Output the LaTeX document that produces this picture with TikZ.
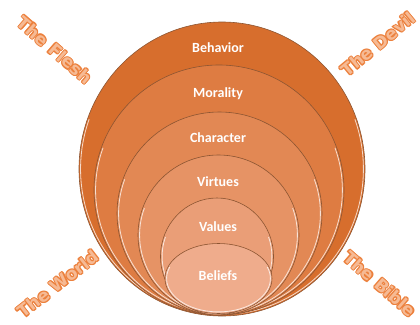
\documentclass[tikz,border=0pt]{standalone}
\usepackage{fontspec}
\setmainfont{Carlito}
\newfontfamily\artfont{DejaVu Sans}
\definecolor{c1}{RGB}{215,110,45}
\definecolor{c2}{RGB}{222,124,66}
\definecolor{c3}{RGB}{226,136,84}
\definecolor{c4}{RGB}{230,147,101}
\definecolor{c5}{RGB}{234,158,119}
\definecolor{c6}{RGB}{239,172,140}
\definecolor{rimcol}{RGB}{140,85,50}
\definecolor{artfill}{RGB}{246,186,148}
\definecolor{artline}{RGB}{236,128,60}
\tikzset{
  ring/.style={draw=rimcol, line width=0.6pt},
  shine/.style={draw=white, line width=0.8pt, draw opacity=0.75},
  lbl/.style={text=white, font=\bfseries\fontsize{14}{16}\selectfont, inner sep=0pt},
  artout/.style={text=artline, font=\artfont\bfseries\fontsize{17}{20}\selectfont, inner sep=0pt},
  artin/.style={text=artfill, font=\artfont\bfseries\fontsize{17}{20}\selectfont, inner sep=0pt}
}
\newcommand\arttext[5]{%
  \foreach \dx/\dy in {1.1/0,-1.1/0,0/1.1,0/-1.1,0.8/0.8,-0.8/0.8,0.8/-0.8,-0.8/-0.8}
    \node[artout, rotate=#3] at ([shift={(\dx,\dy)}]#1,#2) {#4};
  \node[artin, rotate=#3] (#5) at (#1,#2) {#4};
}
\begin{document}
\begin{tikzpicture}[x=1pt,y=-1pt]
\useasboundingbox (0,0) rectangle (420,324);
% layers
\fill[c1] (222,169) ellipse[x radius=143, y radius=147];
\draw[ring] (222,169) ellipse[x radius=143, y radius=147];
\draw[shine] (222,169) ++(200:141.4 and 145.4) arc[start angle=200, end angle=-20, x radius=141.4, y radius=145.4];

\fill[c2] (219,190) ellipse[x radius=125, y radius=125];
\draw[ring] (219,190) ellipse[x radius=125, y radius=125];
\draw[shine] (219,190) ++(200:123.4 and 123.4) arc[start angle=200, end angle=-20, x radius=123.4, y radius=123.4];

\fill[c3] (219.5,213.5) ellipse[x radius=102.5, y radius=101.5];
\draw[ring] (219.5,213.5) ellipse[x radius=102.5, y radius=101.5];
\draw[shine] (219.5,213.5) ++(200:100.9 and 99.9) arc[start angle=200, end angle=-20, x radius=100.9, y radius=99.9];

\fill[c4] (218.5,235) ellipse[x radius=80.5, y radius=80];
\draw[ring] (218.5,235) ellipse[x radius=80.5, y radius=80];
\draw[shine] (218.5,235) ++(200:78.9 and 78.4) arc[start angle=200, end angle=-20, x radius=78.9, y radius=78.4];

\fill[c5] (217,256.5) ellipse[x radius=56.5, y radius=58.5];
\draw[ring] (217,256.5) ellipse[x radius=56.5, y radius=58.5];
\draw[shine] (217,256.5) ++(200:54.9 and 56.9) arc[start angle=200, end angle=-20, x radius=54.9, y radius=56.9];

\fill[c6] (218.5,278.5) ellipse[x radius=53.5, y radius=35];
\draw[ring] (218.5,278.5) ellipse[x radius=53.5, y radius=35];
\draw[shine] (218.5,278.5) ++(200:51.9 and 33.4) arc[start angle=200, end angle=-20, x radius=51.9, y radius=33.4];

% labels
\node[lbl] (behavior) at (218,48) {Behavior};
\node[lbl] (morality) at (218,94) {Morality};
\node[lbl] (character) at (218,138) {Character};
\node[lbl] (virtues) at (218,182) {Virtues};
\node[lbl] (values) at (218,227) {Values};
\node[lbl] (beliefs) at (218,276) {Beliefs};

% corner texts
\arttext{55}{50}{-41}{The Flesh}{flesh}
\arttext{378}{44}{39.5}{The Devil}{devil}
\arttext{58}{284}{38}{The World}{world}
\arttext{380}{284}{-41}{The Bible}{bible}
\end{tikzpicture}
\end{document}
